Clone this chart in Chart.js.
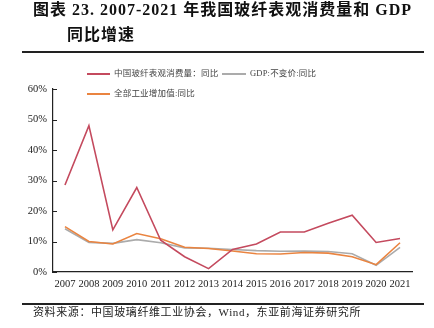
<!DOCTYPE html>
<html>
<head>
<meta charset="utf-8">
<script src="https://cdn.jsdelivr.net/npm/chart.js"></script>
<style>
    html, body { margin: 0; padding: 0; background: #fff; }
    #wrap { position: relative; width: 434px; height: 328px; overflow: hidden; }
    #box { position: absolute; left: 0; top: 0; width: 434px; height: 328px; }
    .title { position: absolute; font-family: "Liberation Serif", "Noto Sans CJK SC", serif; font-weight: bold; font-size: 16px; color: #111; white-space: nowrap; line-height: 1; letter-spacing: 1px; }
    .rule { position: absolute; left: 22px; width: 402px; height: 1.5px; background: #222; }
    .source { position: absolute; left: 33px; top: 307px; font-family: "Liberation Serif", "Noto Sans CJK SC", serif; font-size: 11px; color: #222; letter-spacing: 0.6px; white-space: nowrap; line-height: 1; }
</style>
</head>
<body>
<div id="wrap">
    <div id="box"><canvas id="myChart"></canvas></div>
    <div class="title" style="left:33px; top:2px;">图表 23. 2007-2021 年我国玻纤表观消费量和 GDP</div>
    <div class="title" style="left:67px; top:27px;">同比增速</div>
    <div class="rule" style="top:51px;"></div>
    <div class="rule" style="top:303px;"></div>
    <div class="source">资料来源：中国玻璃纤维工业协会，Wind，东亚前海证券研究所</div>
</div>
<script>
const years = ['2007', '2008', '2009', '2010', '2011', '2012', '2013', '2014', '2015', '2016', '2017', '2018', '2019', '2020', '2021'];

// 同比, %
const glassFiber = [28.5, 48.0, 13.8, 27.7, 10.4, 5.0, 1.1, 7.4, 9.2, 13.1, 13.1, 16.0, 18.6, 9.7, 11.0];
const gdp        = [14.2, 9.7, 9.4, 10.6, 9.6, 7.9, 7.8, 7.4, 7.0, 6.8, 6.9, 6.7, 6.0, 2.2, 8.1];
const industry   = [14.9, 10.0, 9.2, 12.6, 10.9, 8.1, 7.7, 6.9, 6.0, 5.9, 6.4, 6.2, 5.0, 2.4, 9.6];

const yTicks = [0, 10, 20, 30, 40, 50, 60];

const serif = '"Liberation Serif", "Times New Roman", serif';
const mixed = '"Liberation Serif", "Noto Sans CJK SC", serif';

// legend drawn by hand: two entries on the first row, one on the second
const legendSlots = [
    { x: 87, y: 74, len: 23 },   // 玻纤
    { x: 87, y: 94, len: 23 },   // 工业增加值
    { x: 222, y: 74, len: 24 },  // GDP
];

const customLegend = {
    id: 'customLegend',
    afterDraw(chart) {
        const ctx = chart.ctx;
        ctx.save();
        chart.data.datasets.forEach((ds, i) => {
            const s = legendSlots[i];
            ctx.strokeStyle = ds.borderColor;
            ctx.lineWidth = 2;
            ctx.beginPath();
            ctx.moveTo(s.x, s.y);
            ctx.lineTo(s.x + s.len, s.y);
            ctx.stroke();
            ctx.fillStyle = '#444';
            ctx.font = '8.5px ' + mixed;
            ctx.textBaseline = 'middle';
            if ('letterSpacing' in ctx) ctx.letterSpacing = '0.2px';
            ctx.fillText(ds.label, s.x + s.len + 4, s.y);
        });
        ctx.restore();
    }
};

// y ticks point inward from the axis line
const innerTicks = {
    id: 'innerTicks',
    afterDraw(chart) {
        const ctx = chart.ctx;
        const y = chart.scales.y;
        ctx.save();
        ctx.strokeStyle = '#222';
        ctx.lineWidth = 1;
        yTicks.forEach(v => {
            const py = Math.round(y.getPixelForValue(v)) + 0.5;
            ctx.beginPath();
            ctx.moveTo(y.right, py);
            ctx.lineTo(y.right + 4, py);
            ctx.stroke();
        });
        ctx.restore();
    }
};

const ctx = document.getElementById('myChart').getContext('2d');
const myChart = new Chart(ctx, {
    type: 'line',
    data: {
        labels: years,
        datasets: [
            { label: '中国玻纤表观消费量：同比', data: glassFiber, borderColor: '#c44a5e' },
            { label: '全部工业增加值:同比', data: industry, borderColor: '#ea8440' },
            { label: 'GDP:不变价:同比', data: gdp, borderColor: '#ababab' },
        ].map(ds => Object.assign(ds, { borderWidth: 1.6, pointRadius: 0, tension: 0, fill: false })),
    },
    options: {
        responsive: true,
        maintainAspectRatio: false,
        animation: false,
        layout: { padding: { top: 89, right: 22, bottom: 28, left: 0 } },
        plugins: {
            legend: { display: false },
            tooltip: { enabled: false },
        },
        scales: {
            x: {
                offset: true,
                grid: { display: false, drawTicks: false },
                border: { color: '#222', width: 1.2 },
                ticks: { color: '#222', font: { family: serif, size: 10.5 }, padding: 6, maxRotation: 0, autoSkip: false },
                afterFit: s => { s.height = 28; },
            },
            y: {
                min: 0,
                max: 60,
                grid: { display: false, drawTicks: false },
                border: { color: '#222', width: 1.2 },
                afterBuildTicks: s => { s.ticks = yTicks.map(v => ({ value: v })); },
                ticks: { color: '#222', font: { family: serif, size: 10.5 }, padding: 6, callback: v => v + '%' },
                afterFit: s => { s.width = 53; },
            },
        },
    },
    plugins: [customLegend, innerTicks],
});
</script>
</body>
</html>
